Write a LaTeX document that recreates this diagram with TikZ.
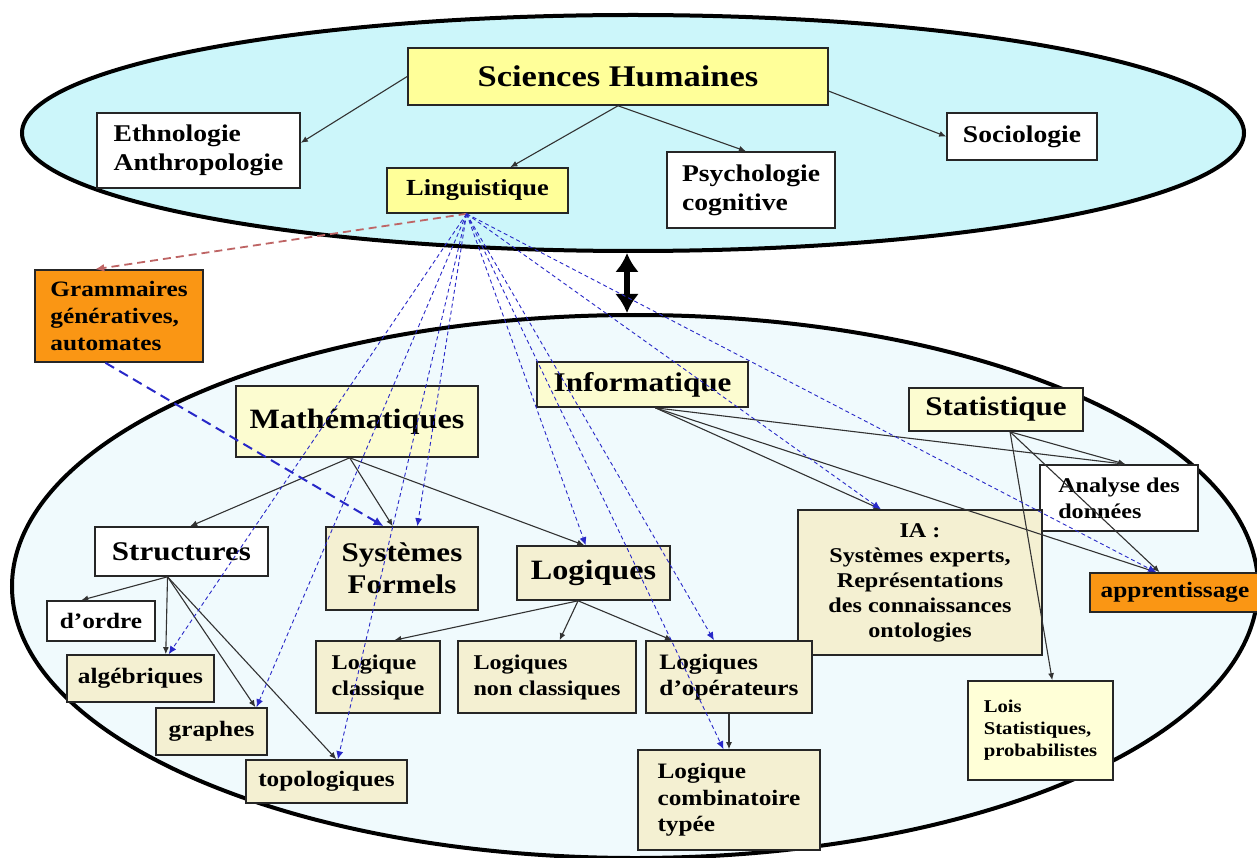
\documentclass[tikz,border=0pt]{standalone}
\usepackage{fontspec}
\setmainfont{Liberation Serif}[FakeStretch=1.15]
\usetikzlibrary{arrows.meta,shapes.geometric,calc}
\definecolor{cyanfill}{RGB}{204,246,250}
\definecolor{botfill}{RGB}{240,250,253}
\definecolor{yel}{RGB}{255,255,153}
\definecolor{lyel}{RGB}{252,252,208}
\definecolor{beige}{RGB}{244,240,210}
\definecolor{orng}{RGB}{250,150,20}
\definecolor{loisfill}{RGB}{255,255,215}
\definecolor{dblue}{RGB}{40,40,200}
\definecolor{brownred}{RGB}{190,100,100}
\definecolor{linegray}{RGB}{50,50,50}
\tikzset{
 box/.style={draw=black!85, line width=1.6pt, inner sep=3pt},
 sz/.style 2 args={minimum width=#1pt, minimum height=#2pt},
 fs/.style 2 args={font=\bfseries\fontsize{#1}{#2}\selectfont},
 conn/.style={draw=linegray, line width=1.1pt, -{Latex[length=7pt,width=6pt]}},
 lconn/.style={draw=dblue, line width=0.9pt, dash pattern=on 4pt off 3pt, -{Latex[length=8pt,width=7pt]}},
 gconn/.style={draw=dblue, line width=2pt, dash pattern=on 10pt off 6pt, -{Latex[length=10pt,width=9pt]}},
 rconn/.style={draw=brownred, line width=1.8pt, dash pattern=on 8pt off 5pt, -{Latex[length=9pt,width=8pt]}},
 dbl/.style={draw=black, line width=6.5pt, {Latex[length=19pt,width=24pt]}-{Latex[length=19pt,width=24pt]}},
 ell/.style={ellipse, draw=black, line width=4pt, inner sep=0pt},
}
\begin{document}
\begin{tikzpicture}[x=1pt,y=-1pt]
\useasboundingbox (0,0) rectangle (1257,858);
\fill[white] (0,0) rectangle (1257,858);
% ellipses
\node[ell, fill=cyanfill, minimum width=1222pt, minimum height=236pt] (topell) at (633,133) {};
\node[ell, fill=botfill, minimum width=1246pt, minimum height=543pt] (botell) at (635,586.5) {};
\draw[dbl] ($(topell.south)+(-6,0)$) -- ($(botell.north)+(-8,0)$);
% top boxes
\node[box, fill=yel, sz={420}{57}, fs={30}{36}] (sh) at (618,76.5) {Sciences Humaines};
\node[box, fill=white, sz={203}{75}, fs={24}{29}, align=left] (eth) at (198.5,150.5) {Ethnologie\\Anthropologie};
\node[box, fill=yel, sz={181}{45}, fs={23}{27}] (ling) at (477.5,190.5) {Linguistique};
\node[box, fill=white, sz={168}{76}, fs={24}{29}, align=left] (psy) at (751,190) {Psychologie\\cognitive};
\node[box, fill=white, sz={150}{47}, fs={24}{29}] (soc) at (1022,136.5) {Sociologie};
% bottom boxes
\node[box, fill=orng, sz={168}{92}, fs={22}{27}, align=left] (gram) at (119,316) {Grammaires\\génératives,\\automates};
\node[box, fill=lyel, sz={211}{45}, fs={27}{32}] (info) at (642.5,384.5) {Informatique};
\node[box, fill=lyel, sz={242}{71}, fs={28}{33}] (math) at (357,421.5) {Mathématiques};
\node[box, fill=lyel, sz={174}{43}, fs={27}{32}] (stat) at (996,409.5) {Statistique};
\node[box, fill=white, sz={158}{66}, fs={21}{26}, align=left] (ana) at (1119,498) {Analyse des\\données};
\node[box, fill=beige, sz={244}{145}, fs={21}{25}, align=center] (ia) at (920,582.5) {IA :\\Systèmes experts,\\Représentations\\des connaissances\\ontologies};
\node[box, fill=orng, sz={170}{39}, fs={22}{26}] (app) at (1175,592.5) {apprentissage};
\node[box, fill=white, sz={173}{49}, fs={27}{32}] (str) at (181.5,551.5) {Structures};
\node[box, fill=beige, sz={152}{83}, fs={27}{32}, align=center] (sf) at (402,568.5) {Systèmes\\Formels};
\node[box, fill=beige, sz={153}{54}, fs={28}{33}] (logq) at (593.5,573) {Logiques};
\node[box, fill=white, sz={108}{40}, fs={22}{26}] (ord) at (101,621) {d’ordre};
\node[box, fill=beige, sz={147}{47}, fs={22}{26}] (alg) at (140.5,678.5) {algébriques};
\node[box, fill=beige, sz={111}{47}, fs={22}{26}] (gra) at (211.5,731.5) {graphes};
\node[box, fill=beige, sz={161}{43}, fs={22}{26}] (topo) at (326.5,781.5) {topologiques};
\node[box, fill=beige, sz={124}{72}, fs={21}{26}, align=left] (lcl) at (378,677) {Logique\\classique};
\node[box, fill=beige, sz={178}{72}, fs={21}{26}, align=left] (lnc) at (547,677) {Logiques\\non classiques};
\node[box, fill=beige, sz={166}{72}, fs={22}{26}, align=left] (lop) at (729,677) {Logiques\\d’opérateurs};
\node[box, fill=beige, sz={182}{100}, fs={22}{26.5}, align=left] (lcb) at (729,800) {Logique\\combinatoire\\typée};
\node[box, fill=loisfill, sz={145}{99}, fs={18}{22}, align=left] (lois) at (1040.5,730.5) {Lois\\Statistiques,\\probabilistes};
% solid connectors
\draw[conn] (sh.west) -- ($(eth.north east)!0.4!(eth.south east)$);
\draw[conn] (sh.south) -- ($(ling.north west)!0.68!(ling.north east)$);
\draw[conn] (sh.south) -- ($(psy.north west)!0.47!(psy.north east)$);
\draw[conn] ($(sh.north east)!0.75!(sh.south east)$) -- (soc.west);
\coordinate (mo) at ($(math.south west)!0.47!(math.south east)$);
\draw[conn] (mo) -- ($(str.north west)!0.55!(str.north east)$);
\draw[conn] (mo) -- ($(sf.north west)!0.44!(sf.north east)$);
\draw[conn] (mo) -- ($(logq.north west)!0.44!(logq.north east)$);
\coordinate (so) at ($(str.south west)!0.42!(str.south east)$);
\draw[conn] (so) -- ($(ord.north west)!0.32!(ord.north east)$);
\draw[conn] (so) -- ($(alg.north west)!0.67!(alg.north east)$);
\draw[conn] (so) -- ($(gra.north west)!0.89!(gra.north east)$);
\draw[conn] (so) -- ($(topo.north west)!0.56!(topo.north east)$);
\coordinate (lq) at ($(logq.south west)!0.4!(logq.south east)$);
\draw[conn] (lq) -- ($(lcl.north west)!0.63!(lcl.north east)$);
\draw[conn] (lq) -- ($(lnc.north west)!0.57!(lnc.north east)$);
\draw[conn] (lq) -- ($(lop.north west)!0.16!(lop.north east)$);
\draw[conn] ($(lop.south west)!0.5!(lop.south east)$) -- ($(lcb.north west)!0.5!(lcb.north east)$);
\coordinate (io) at ($(info.south west)!0.56!(info.south east)$);
\draw[conn] (io) -- ($(ana.north west)!0.54!(ana.north east)$);
\draw[conn] (io) -- ($(app.north west)!0.39!(app.north east)$);
\draw[conn] (io) -- ($(ia.north west)!0.34!(ia.north east)$);
\coordinate (st) at ($(stat.south west)!0.58!(stat.south east)$);
\draw[conn] (st) -- ($(ana.north west)!0.54!(ana.north east)$);
\draw[conn] (st) -- ($(app.north west)!0.41!(app.north east)$);
\draw[conn] (st) -- ($(lois.north west)!0.58!(lois.north east)$);
% dashed connectors
\coordinate (lo) at ($(ling.south west)!0.44!(ling.south east)$);
\draw[rconn] (lo) -- ($(gram.north west)!0.36!(gram.north east)$);
\draw[gconn] ($(gram.south west)!0.42!(gram.south east)$) -- ($(sf.north west)!0.38!(sf.north east)$);
\draw[lconn] (lo) -- ($(alg.north west)!0.69!(alg.north east)$);
\draw[lconn] (lo) -- ($(gra.north west)!0.9!(gra.north east)$);
\draw[lconn] (lo) -- ($(topo.north west)!0.57!(topo.north east)$);
\draw[lconn] (lo) -- ($(sf.north west)!0.6!(sf.north east)$);
\draw[lconn] (lo) -- ($(logq.north west)!0.45!(logq.north east)$);
\draw[lconn] (lo) -- ($(lop.north west)!0.41!(lop.north east)$);
\draw[lconn] (lo) -- ($(lcb.north west)!0.47!(lcb.north east)$);
\draw[lconn] (lo) -- ($(ia.north west)!0.34!(ia.north east)$);
\draw[lconn] (lo) -- ($(app.north west)!0.39!(app.north east)$);
\end{tikzpicture}
\end{document}
